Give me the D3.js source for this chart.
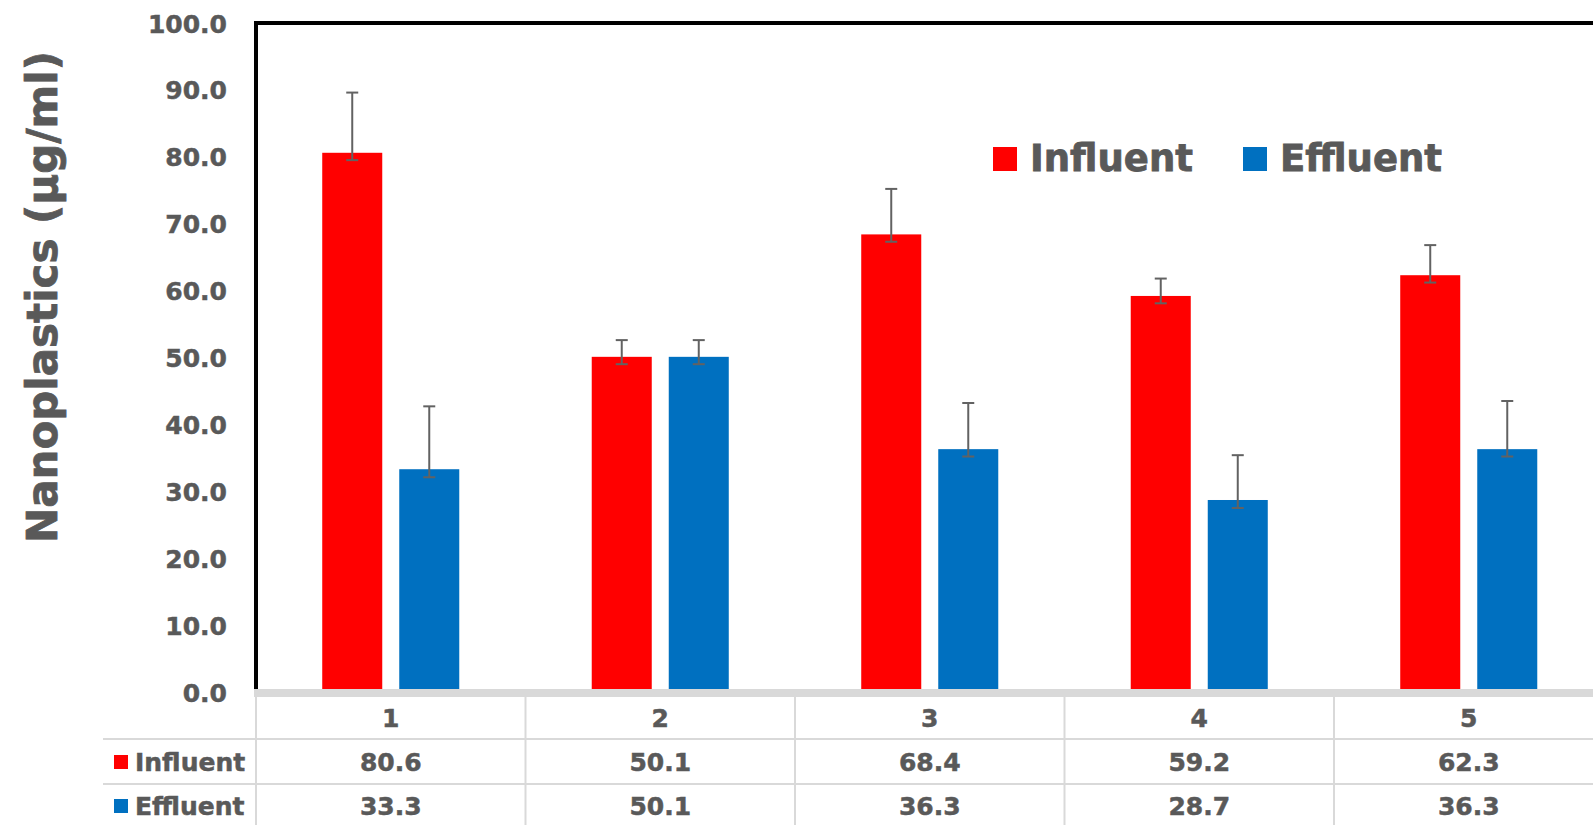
<!DOCTYPE html>
<html>
<head>
<meta charset="utf-8">
<script src="https://cdn.jsdelivr.net/npm/d3@7"></script>
<style>
  html, body { margin: 0; padding: 0; background: #fff; overflow: hidden; }
  svg text { font-family: "DejaVu Sans", sans-serif; font-weight: bold; fill: #595959; stroke: #595959; stroke-width: 0.5px; }
</style>
</head>
<body>
<svg id="chart" width="1593" height="825"></svg>
<script>
// ---- data ----
const categories = ["1", "2", "3", "4", "5"];
const seriesNames = ["Influent", "Effluent"];
const influent = [80.6, 50.1, 68.4, 59.2, 62.3];
const effluent = [33.3, 50.1, 36.3, 28.7, 36.3];
const influentErrPlus = [9.0, 2.5, 6.8, 2.6, 4.5];
const influentErrMinus = [1.1, 1.1, 1.1, 1.1, 1.1];
const effluentErrPlus = [9.4, 2.5, 6.9, 6.7, 7.2];
const effluentErrMinus = [1.2, 1.1, 1.1, 1.2, 1.1];
const yTicks = [0, 10, 20, 30, 40, 50, 60, 70, 80, 90, 100];
const colors = ["#ff0000", "#0070c0"];

const svg = d3.select("#chart");

const plotLeft = 256, plotTop = 23, plotBottom = 692;
const catWidth = 269.5;
const plotRight = plotLeft + catWidth * categories.length;

const x0 = d3.scaleBand().domain(categories).range([plotLeft, plotRight]).paddingInner(0).paddingOuter(0);
const x1 = d3.scaleBand().domain(seriesNames).range([0, x0.bandwidth()]).paddingInner(17 / 77).paddingOuter(0.86);
const y = d3.scaleLinear().domain([0, 100]).range([plotBottom, plotTop]);

const rows = seriesNames.map((name, i) => ({
  name,
  color: colors[i],
  values: i === 0 ? influent : effluent,
  plus: i === 0 ? influentErrPlus : effluentErrPlus,
  minus: i === 0 ? influentErrMinus : effluentErrMinus
}));

// ---- bars ----
const groups = svg.append("g").selectAll("g")
  .data(categories).join("g")
  .attr("transform", d => `translate(${x0(d)},0)`);

groups.selectAll("rect")
  .data((c, ci) => rows.map(r => ({ r, v: r.values[ci], p: r.plus[ci], m: r.minus[ci] })))
  .join("rect")
  .attr("x", d => x1(d.r.name))
  .attr("width", x1.bandwidth())
  .attr("y", d => y(d.v))
  .attr("height", d => y(0) - y(d.v))
  .attr("fill", d => d.r.color);

// ---- error bars ----
const eb = groups.selectAll("g.err")
  .data((c, ci) => rows.map(r => ({ r, v: r.values[ci], p: r.plus[ci], m: r.minus[ci] })))
  .join("g").attr("class", "err")
  .attr("stroke", "#626262").attr("stroke-width", 2);
eb.append("line")
  .attr("x1", d => x1(d.r.name) + x1.bandwidth() / 2)
  .attr("x2", d => x1(d.r.name) + x1.bandwidth() / 2)
  .attr("y1", d => y(d.v + d.p)).attr("y2", d => y(d.v - d.m));
eb.append("line")
  .attr("x1", d => x1(d.r.name) + x1.bandwidth() / 2 - 6)
  .attr("x2", d => x1(d.r.name) + x1.bandwidth() / 2 + 6)
  .attr("y1", d => y(d.v + d.p)).attr("y2", d => y(d.v + d.p));
eb.append("line")
  .attr("x1", d => x1(d.r.name) + x1.bandwidth() / 2 - 6)
  .attr("x2", d => x1(d.r.name) + x1.bandwidth() / 2 + 6)
  .attr("y1", d => y(d.v - d.m)).attr("y2", d => y(d.v - d.m));

// ---- frame (top + left) ----
svg.append("line").attr("x1", plotLeft).attr("x2", 1600).attr("y1", plotTop).attr("y2", plotTop)
  .attr("stroke", "#000").attr("stroke-width", 4);
svg.append("line").attr("x1", plotLeft).attr("x2", plotLeft).attr("y1", plotTop - 2).attr("y2", plotBottom)
  .attr("stroke", "#000").attr("stroke-width", 4);

// ---- y axis ----
const yAxis = d3.axisLeft(y).tickValues(yTicks).tickFormat(d3.format(".1f")).tickSize(0).tickPadding(29);
const ya = svg.append("g").attr("transform", `translate(${plotLeft},0)`).call(yAxis);
ya.select(".domain").remove();
ya.selectAll("text").style("font-size", "25px").attr("fill", "#595959")
  .style("font-family", "'DejaVu Sans', sans-serif").style("font-weight", "bold").attr("dy", "0.36em");

// y title
svg.append("text")
  .attr("transform", "translate(42,297) rotate(-90)")
  .attr("text-anchor", "middle").attr("dominant-baseline", "central")
  .style("font-size", "42px").style("stroke-width", "0.8px")
  .text("Nanoplastics (\u03bcg/ml)");

// ---- data table ----
const tableLineColor = "#d9d9d9";
const rowCat = [697, 739], rowIn = [739, 784], rowEf = [784, 830];
svg.append("rect").attr("x", plotLeft - 2).attr("y", 689).attr("width", 1600 - plotLeft).attr("height", 8).attr("fill", tableLineColor);
[rowIn[0], rowEf[0]].forEach(yy => {
  svg.append("line").attr("x1", 103).attr("x2", 1600).attr("y1", yy).attr("y2", yy)
    .attr("stroke", tableLineColor).attr("stroke-width", 2);
});
categories.forEach(c => {
  svg.append("line").attr("x1", x0(c)).attr("x2", x0(c)).attr("y1", 697).attr("y2", 830)
    .attr("stroke", tableLineColor).attr("stroke-width", 2);
});
// category labels
svg.append("g").selectAll("text").data(categories).join("text")
  .attr("x", d => x0(d) + x0.bandwidth() / 2).attr("y", 718)
  .attr("text-anchor", "middle").attr("dominant-baseline", "central")
  .style("font-size", "25px").text(d => d);
// value rows
const rowCenters = [762, 806];
rows.forEach((r, i) => {
  svg.append("g").selectAll("text").data(r.values).join("text")
    .attr("x", (d, ci) => x0(categories[ci]) + x0.bandwidth() / 2).attr("y", rowCenters[i])
    .attr("text-anchor", "middle").attr("dominant-baseline", "central")
    .style("font-size", "25px").text(d => d3.format(".1f")(d));
  svg.append("rect").attr("x", 114).attr("y", rowCenters[i] - 7).attr("width", 14).attr("height", 14).attr("fill", r.color);
  svg.append("text").attr("x", 135).attr("y", rowCenters[i])
    .attr("dominant-baseline", "central").style("font-size", "25px").text(r.name);
});

// ---- legend ----
const legendX = [993, 1243];
rows.forEach((r, i) => {
  svg.append("rect").attr("x", legendX[i]).attr("y", 147).attr("width", 24).attr("height", 24).attr("fill", r.color);
  svg.append("text").attr("x", legendX[i] + 37).attr("y", 171)
    .style("font-size", "37px").style("stroke-width", "0.8px").text(r.name);
});
</script>
</body>
</html>
